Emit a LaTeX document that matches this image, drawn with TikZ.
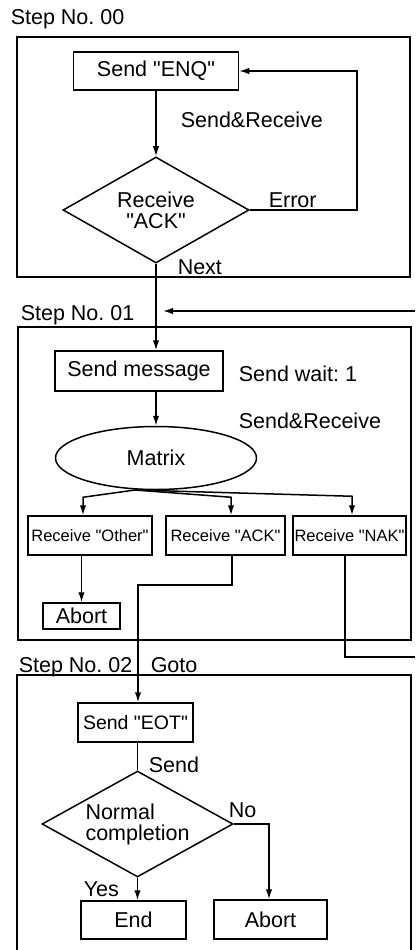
\documentclass[tikz,border=0pt]{standalone}
\usepackage{fontspec}
\setmainfont{Liberation Sans}
\usetikzlibrary{shapes,arrows.meta,positioning}
\frenchspacing

\begin{document}
\begin{tikzpicture}[x=1pt,y=-1pt,
  font=\fontsize{21.5}{21}\selectfont,
  line width=1.5pt,
  >={Latex[length=10pt,width=6.5pt]},
  stepbox/.style={draw,rectangle,inner sep=0pt},
  rcvbox/.style={font=\fontsize{16.5}{18}\selectfont},
  decision/.style={draw,diamond,inner sep=0pt,aspect=1.8,align=center},
  lbl/.style={anchor=base west,inner sep=0pt}]
\useasboundingbox (0,0) rectangle (415,950);
\clip (0,0) rectangle (415,950);

% step 00
\node[lbl] (s00) at (10,25) {Step No. 00};
\draw (17,37) rectangle (410,277);
\node[stepbox,minimum width=165pt,minimum height=38pt] (enq) at (156,71) {Send \textquotedbl ENQ\textquotedbl};
\node[decision,minimum width=186pt,minimum height=106pt] (ack) at (156,210) {Receive\\\textquotedbl ACK\textquotedbl};
\node[lbl] (sr0) at (180,127) {Send\&Receive};
\node[lbl] (err) at (268,207) {Error};
\node[lbl] (nxt) at (177,274) {Next};
\draw[->] (enq) -- (ack);
\draw[->] (ack.east) -- ++(107,0) |- (enq.east);

% step 01
\node[lbl] (s01) at (20,320) {Step No. 01};
\draw (18,327) rectangle (411,640);
\node[stepbox,minimum width=168pt,minimum height=40pt] (msg) at (139,371) {Send message};
\node[lbl] (wait) at (238,381) {Send wait: 1};
\node[lbl] (sr1) at (238,428) {Send\&Receive};
\node[draw,ellipse,inner sep=0pt,minimum width=201pt,minimum height=63pt] (mtx) at (156,458) {Matrix};
\coordinate (fork) at (135,490);
\node[stepbox,rcvbox,minimum width=124pt,minimum height=39pt] (other) at (90,535.5) {Receive \textquotedbl Other\textquotedbl};
\node[stepbox,rcvbox,minimum width=119pt,minimum height=39pt] (rack) at (225.5,535.5) {Receive \textquotedbl ACK\textquotedbl};
\node[stepbox,rcvbox,minimum width=113pt,minimum height=39pt] (nak) at (349.5,535.5) {Receive \textquotedbl NAK\textquotedbl};
\node[stepbox,minimum width=77pt,minimum height=26pt] (abort1) at (81.5,616) {Abort};
\coordinate (ret) at (415,311);
\coordinate (nakout) at (415,657);
\draw[->] (ack.south) -- (ack.south |- msg.north);
\draw[->] (ret) -- ([xshift=7pt]ret -| ack.south);
\draw[->] (ack.south |- msg.south) -- (ack.south |- mtx.north);
\draw[->] (fork) -- ([xshift=-7pt,yshift=18pt]other.north) -- ([xshift=-7pt]other.north);
\draw[->] (fork) -- ([xshift=5.5pt,yshift=18pt]rack.north) -- ([xshift=5.5pt]rack.north);
\draw[->] (fork) -- ([xshift=2.5pt,yshift=19pt]nak.north) -- ([xshift=2.5pt]nak.north);
\draw[->] (abort1.north |- other.south) -- (abort1.north);

% step 02
\node[lbl] (s02) at (18,672) {Step No. 02};
\node[lbl] (goto) at (150,672) {Goto};
\draw (17,675) rectangle (411,970);
\node[stepbox,font=\fontsize{19.5}{21}\selectfont,minimum width=115pt,minimum height=39pt] (eot) at (135.5,722.5) {Send \textquotedbl EOT\textquotedbl};
\node[decision,align=left,minimum width=191pt,minimum height=106pt] (done) at (137.5,824) {Normal\\completion};
\node[lbl] (snd) at (148,772) {Send};
\node[lbl] (no) at (228,817) {No};
\node[lbl] (yes) at (83,896) {Yes};
\node[stepbox,minimum width=105pt,minimum height=38pt] (fin) at (133.5,920) {End};
\node[stepbox,minimum width=113pt,minimum height=39pt] (abort2) at (270.5,919.5) {Abort};
\draw[->] ([xshift=6.5pt]rack.south) -- ++(0,29) -| ([xshift=2.5pt]eot.north);
\draw ([xshift=-4.5pt]nak.south) |- (nakout);
\draw (done.north |- eot.south) -- (done.north);
\draw[->] (done.south) -- (done.south |- fin.north);
\draw[->] (done.east) -| ([xshift=-1.5pt]abort2.north);
\end{tikzpicture}
\end{document}
